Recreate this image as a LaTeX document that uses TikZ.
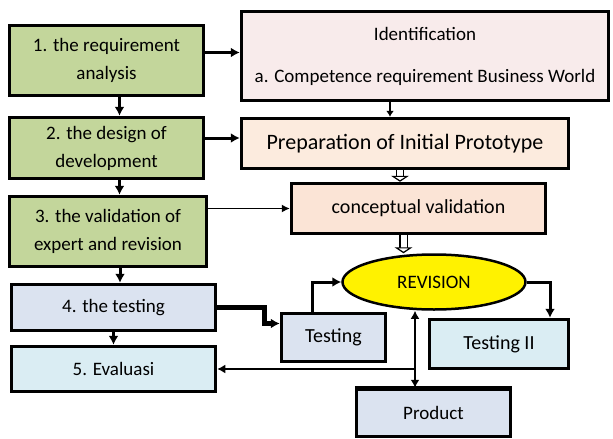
\documentclass[tikz,border=0pt]{standalone}
\usepackage{fontspec}
\setmainfont{Carlito}
\usetikzlibrary{arrows.meta,shapes.geometric}

\definecolor{stagegreen}{HTML}{C3D69B}
\definecolor{identpink}{HTML}{F8EBEB}
\definecolor{prepsalmon}{HTML}{FCEBDE}
\definecolor{conceptsalmon}{HTML}{FBE4D6}
\definecolor{testblue}{HTML}{DBE3F0}
\definecolor{evalblue}{HTML}{DAEDF3}

\begin{document}
\begin{tikzpicture}[x=1pt,y=-1pt,
    stagebox/.style={draw,line width=3.5pt,align=center,inner sep=2pt,
      font=\fontsize{19}{28}\selectfont},
    flow/.style={line width=3pt,-{Latex[length=9pt,width=10pt]}},
    hollow/.style={double=white,double distance=6pt,line width=1.2pt,
      -{Triangle[open,fill=white,length=6pt,width=18pt]}}]
    \useasboundingbox (0,0) rectangle (613,439);

    % left column
    \node[stagebox,fill=stagegreen,minimum width=194pt,minimum height=70pt] (req) at (106.5,60.5)
        {1. the requirement\\analysis};
    \node[stagebox,fill=stagegreen,minimum width=194pt,minimum height=61pt] (design) at (106.5,148)
        {2. the design of\\development};
    \node[stagebox,fill=stagegreen,minimum width=197pt,minimum height=70pt] (valid) at (108,231.5)
        {3. the validation of\\expert and revision};
    \node[stagebox,fill=testblue,minimum width=204pt,minimum height=46pt] (test) at (113.5,307.5)
        {4. the testing};
    \node[stagebox,fill=evalblue,minimum width=204pt,minimum height=45pt] (eval) at (113.5,369)
        {5. Evaluasi};

    % right side
    \node[stagebox,fill=identpink,minimum width=367pt,minimum height=89pt] (ident) at (425,56)
        {Identification\\[14pt]a. Competence requirement Business World};
    \node[stagebox,fill=prepsalmon,minimum width=327pt,minimum height=50pt,
        font=\fontsize{22}{26}\selectfont] (prep) at (405,143.5)
        {Preparation of Initial Prototype};
    \node[stagebox,fill=conceptsalmon,minimum width=254pt,minimum height=50pt,
        font=\fontsize{20}{24}\selectfont] (concept) at (418.5,208.5)
        {conceptual validation};
    \node[ellipse,draw,line width=2.5pt,fill=yellow,minimum width=183pt,minimum height=55pt,
        inner sep=0pt,font=\fontsize{19}{22}\selectfont] (rev) at (434,282) {REVISION};
    \node[stagebox,fill=testblue,minimum width=104pt,minimum height=48pt,
        font=\fontsize{20}{24}\selectfont] (testing) at (333.5,337.5) {Testing};
    \node[stagebox,fill=evalblue,minimum width=139pt,minimum height=49pt,
        font=\fontsize{20}{24}\selectfont] (testingii) at (499,344) {Testing II};
    \node[stagebox,fill=testblue,minimum width=154pt,minimum height=47pt] (product) at (433.5,413) {Product};
    \draw[line width=3pt] (product.north west) -- (product.north east);

    % connectors
    \draw[flow] ([yshift=8pt]req.east) -- ([yshift=8pt]req.east -| ident.west);
    \draw[flow] ([yshift=10pt]design.east) -- ([yshift=10pt]design.east -| prep.west);
    \draw[line width=1.2pt,-{Latex[length=8pt,width=8pt]}] (concept.west -| valid.east) -- (concept.west);
    \draw[flow] ([xshift=13pt]req.south) -- ([xshift=13pt]req.south |- design.north);
    \draw[flow] ([xshift=13pt]design.south) -- ([xshift=13pt]design.south |- valid.north);
    \draw[flow] ([xshift=12pt]valid.south) -- ([xshift=12pt]valid.south |- test.north);
    \draw[flow] (test.south) -- (test.south |- eval.north);
    \draw[line width=1.5pt,-{Latex[length=6pt,width=8pt]}] ([xshift=-35pt]ident.south) -- ([xshift=-35pt]ident.south |- prep.north);
    \draw[hollow] ([xshift=-5pt]prep.south) -- ([xshift=-5pt]prep.south |- concept.north);
    \draw[hollow] ([xshift=-15pt]concept.south) -- ([xshift=-15pt]concept.south |- rev.north);
    \draw[flow,line width=4.5pt] (test.east) -- ++(47,0) |- ([yshift=14pt]testing.west);
    \draw[flow] ([xshift=-21pt]testing.north) |- (rev.west);
    \draw[flow] (rev.east) -| ([xshift=51pt]testingii.north);
    \coordinate (joint) at ([xshift=-19pt]rev.south |- eval.east);
    \draw[line width=2.5pt,{Latex[length=8pt,width=9pt]}-{Latex[length=8pt,width=9pt]}]
        ([xshift=-19pt]rev.south) -- ([xshift=-19pt]rev.south |- product.north);
    \draw[line width=1.5pt,{Latex[length=8pt,width=9pt]}-] (eval.east) -- (joint);
\end{tikzpicture}
\end{document}
